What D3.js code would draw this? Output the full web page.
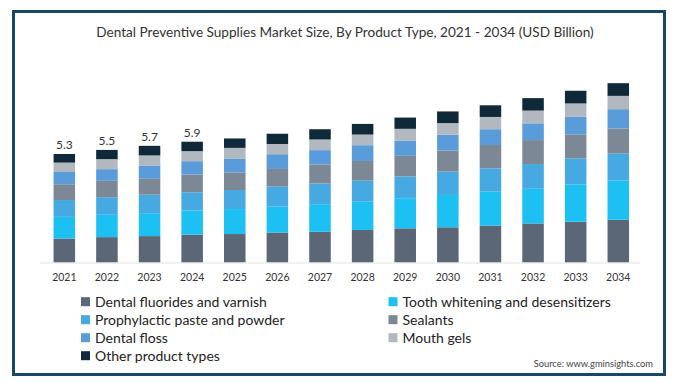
<!DOCTYPE html>
<html>
<head>
<meta charset="utf-8">
<script src="https://cdn.jsdelivr.net/npm/d3@7"></script>
<style>
  html, body { margin: 0; padding: 0; background: #fff; }
  svg { display: block; font-family: Lato, 'Noto Sans', sans-serif; }
</style>
</head>
<body>
<svg id="chart"></svg>
<script>
// 年（カテゴリ）
const years = ['2021', '2022', '2023', '2024', '2025', '2026', '2027', '2028', '2029', '2030', '2031', '2032', '2033', '2034'];

// 系列ごとの値 (USD Billion)
const fluorides = [1.17, 1.24, 1.29, 1.36, 1.39, 1.46, 1.50, 1.59, 1.67, 1.72, 1.80, 1.91, 1.99, 2.09];
const toothWhitening = [1.06, 1.09, 1.12, 1.18, 1.22, 1.27, 1.35, 1.38, 1.47, 1.58, 1.66, 1.69, 1.83, 1.92];
const prophylactic = [0.82, 0.86, 0.90, 0.89, 0.93, 0.98, 1.01, 1.03, 1.06, 1.14, 1.14, 1.21, 1.27, 1.32];
const sealants = [0.77, 0.80, 0.78, 0.87, 0.86, 0.86, 0.93, 0.96, 1.01, 1.03, 1.14, 1.17, 1.17, 1.21];
const dentalFloss = [0.60, 0.57, 0.65, 0.65, 0.68, 0.72, 0.70, 0.77, 0.75, 0.77, 0.77, 0.82, 0.86, 0.95];
const mouthGels = [0.46, 0.49, 0.49, 0.49, 0.52, 0.50, 0.52, 0.52, 0.57, 0.57, 0.60, 0.62, 0.65, 0.65];
const otherTypes = [0.42, 0.45, 0.47, 0.46, 0.46, 0.50, 0.50, 0.52, 0.55, 0.57, 0.57, 0.61, 0.62, 0.62];

// 棒の上に表示するラベル（最初の4年のみ）
const totalLabels = ['5.3', '5.5', '5.7', '5.9'];

// 系列名（積み上げ順: 下から）
const seriesNames = ['Dental fluorides and varnish', 'Tooth whitening and desensitizers', 'Prophylactic paste and powder',
    'Sealants', 'Dental floss', 'Mouth gels', 'Other product types'];
const seriesValues = [fluorides, toothWhitening, prophylactic, sealants, dentalFloss, mouthGels, otherTypes];
const seriesColors = ['#5b6676', '#1cc0f2', '#46a9e1', '#7c8896', '#5a9cd9', '#b1b8c0', '#10293a'];

/* 定数群 */
const SVG_WIDTH = 676;
const SVG_HEIGHT = 382;
const BASE_Y = 262.5;

const svg = d3.select('#chart').attr('width', SVG_WIDTH).attr('height', SVG_HEIGHT);

// 外枠
svg.append('rect')
    .attr('x', 13.5).attr('y', 11.5).attr('width', 651).attr('height', 363)
    .attr('fill', 'none').attr('stroke', '#17476a').attr('stroke-width', 3);

// タイトル
svg.append('text')
    .attr('x', 345).attr('y', 37)
    .attr('text-anchor', 'middle').attr('font-size', '13.6px').attr('fill', '#333')
    .text('Dental Preventive Supplies Market Size, By Product Type, 2021 - 2034 (USD Billion)');

// スケール
const xScale = d3.scaleBand().domain(years).range([42.9, 639.7]).paddingInner(0.495).paddingOuter(0.25);
const yScale = d3.scaleLinear().domain([0, 10]).range([BASE_Y, BASE_Y - 204.7]);

// 積み上げ用データ
const table = years.map((y, i) => {
    const row = { year: y };
    seriesNames.forEach((s, k) => { row[s] = seriesValues[k][i]; });
    return row;
});
const stacked = d3.stack().keys(seriesNames)(table);

// 棒を描画する
svg.append('g').selectAll('g').data(stacked).enter().append('g')
    .attr('fill', (d, k) => seriesColors[k])
    .selectAll('rect').data((d) => d).enter().append('rect')
    .attr('x', (d) => xScale(d.data.year))
    .attr('y', (d) => yScale(d[1]))
    .attr('width', xScale.bandwidth())
    .attr('height', (d) => yScale(d[0]) - yScale(d[1]));

// ベースライン
svg.append('line')
    .attr('x1', 40).attr('x2', 640).attr('y1', BASE_Y + 0.5).attr('y2', BASE_Y + 0.5)
    .attr('stroke', '#e3e3e3').attr('stroke-width', 1);

// x軸ラベル
const xAxis = d3.axisBottom(xScale).tickSize(0).tickPadding(11);
const gx = svg.append('g').attr('transform', `translate(0,${BASE_Y})`).call(xAxis);
gx.select('.domain').remove();
gx.selectAll('text').attr('font-family', 'Lato, sans-serif').attr('font-size', '10.5px').attr('fill', '#333');

// 合計ラベル
const totals = stacked[stacked.length - 1];
svg.append('g').selectAll('text').data(totalLabels).enter().append('text')
    .attr('x', (d, i) => xScale(years[i]) + xScale.bandwidth() / 2)
    .attr('y', (d, i) => yScale(totals[i][1]) - 5)
    .attr('text-anchor', 'middle').attr('font-size', '12px').attr('fill', '#333')
    .text((d) => d);

// 凡例（2列）
const legendOrder = [0, 2, 4, 6, 1, 3, 5];
const legend = svg.append('g').selectAll('g').data(legendOrder).enter().append('g')
    .attr('transform', (k, j) => {
        const col = j < 4 ? 0 : 1;
        const row = j < 4 ? j : j - 4;
        return `translate(${col === 0 ? 81 : 388.5},${301.7 + row * 18})`;
    });
legend.append('rect')
    .attr('x', 0).attr('y', -4.5).attr('width', 9).attr('height', 9)
    .attr('fill', (k) => seriesColors[k]);
legend.append('text')
    .attr('x', 14).attr('y', 5)
    .attr('font-size', '14px').attr('fill', '#222')
    .text((k) => seriesNames[k]);

// 出典
svg.append('text')
    .attr('x', 653).attr('y', 367)
    .attr('text-anchor', 'end').attr('font-size', '9.3px').attr('fill', '#444')
    .text('Source: www.gminsights.com');
</script>
</body>
</html>
